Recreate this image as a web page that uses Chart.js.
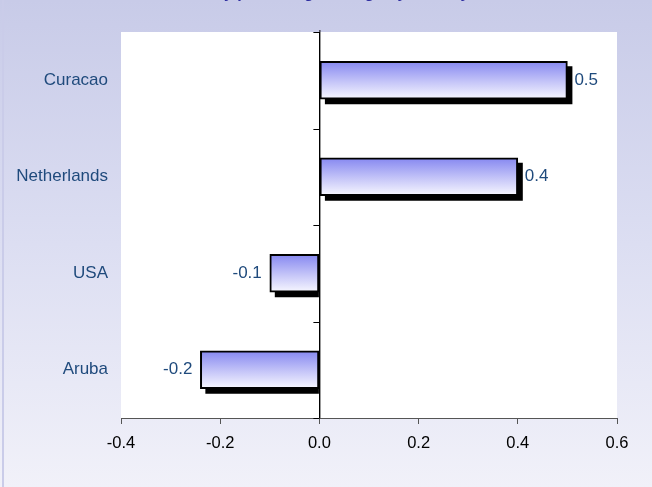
<!DOCTYPE html>
<html>
<head>
<meta charset="utf-8">
<script src="https://cdn.jsdelivr.net/npm/chart.js@4"></script>
<style>
  html, body { margin: 0; padding: 0; overflow: hidden; background: #f0f0f8; }
  #wrap { position: absolute; left: 0; top: -30px; width: 652px; height: 517px; }
</style>
</head>
<body>
<div id="wrap"><canvas id="bars"></canvas></div>
<script>
// values
const countries = ['Curacao', 'Netherlands', 'USA', 'Aruba'];
const changes = [0.5, 0.4, -0.1, -0.24];
const xTicks = [-0.4, -0.2, 0.0, 0.2, 0.4, 0.6];
const titleText = 'Inflation by percentage change by country';

const FONT = '"Liberation Sans", Arial, sans-serif';
const LABEL_BLUE = '#1f4a7c';
const SHADOW = 5;

// page background + white plot area
const backdrop = {
    id: 'backdrop',
    beforeDraw(chart) {
        const { ctx, width, height, chartArea } = chart;
        const g = ctx.createLinearGradient(0, 30, 0, height);
        g.addColorStop(0, '#c8cbe8');
        g.addColorStop(0.5, '#dcdef2');
        g.addColorStop(1, '#f1f1f9');
        ctx.save();
        ctx.fillStyle = g;
        ctx.fillRect(0, 0, width, height);
        ctx.fillStyle = '#cacce9';
        ctx.fillRect(2, 30, 2, height);
        ctx.fillStyle = '#ffffff';
        ctx.fillRect(chartArea.left, chartArea.top, chartArea.right - chartArea.left, chartArea.bottom - chartArea.top);
        ctx.restore();
    }
};

// black drop shadow behind each bar
const barShadow = {
    id: 'barShadow',
    beforeDatasetsDraw(chart) {
        const { ctx } = chart;
        const meta = chart.getDatasetMeta(0);
        ctx.save();
        ctx.fillStyle = '#000';
        meta.data.forEach((bar, i) => {
            const p = bar.getProps(['x', 'y', 'base', 'height'], true);
            const left = Math.min(p.x, p.base) + SHADOW;
            const right = changes[i] >= 0 ? Math.max(p.x, p.base) + SHADOW : p.base;
            ctx.fillRect(left, p.y - p.height / 2 + SHADOW, right - left, p.height);
        });
        ctx.restore();
    }
};

// zero line tick marks between categories + value labels
const extras = {
    id: 'extras',
    afterDatasetsDraw(chart) {
        const { ctx, scales } = chart;
        const x0 = scales.x.getPixelForValue(0);
        ctx.save();
        ctx.strokeStyle = '#000';
        ctx.lineWidth = 1;
        ctx.beginPath();
        ctx.moveTo(x0 + 0.5, chart.chartArea.top - 2);
        ctx.lineTo(x0 + 0.5, chart.chartArea.bottom);
        for (let i = 0; i <= countries.length; i++) {
            const yb = scales.y.getPixelForValue(i - 0.5);
            ctx.moveTo(x0 - 6, Math.round(yb) + 0.5);
            ctx.lineTo(x0, Math.round(yb) + 0.5);
        }
        ctx.stroke();

        ctx.font = '17px ' + FONT;
        ctx.fillStyle = LABEL_BLUE;
        ctx.textBaseline = 'middle';
        chart.getDatasetMeta(0).data.forEach((bar, i) => {
            const p = bar.getProps(['x', 'y'], true);
            const txt = changes[i].toFixed(1);
            if (changes[i] >= 0) {
                ctx.textAlign = 'left';
                ctx.fillText(txt, p.x + 7, p.y);
            } else {
                ctx.textAlign = 'right';
                ctx.fillText(txt, p.x - 8, p.y);
            }
        });
        ctx.restore();
    }
};

function barFill(c) {
    const chart = c.chart;
    const y = chart.scales.y;
    const yc = y ? y.getPixelForValue(c.dataIndex) : NaN;
    if (!isFinite(yc)) return '#b0b0f4';
    const g = chart.ctx.createLinearGradient(0, yc - 19, 0, yc + 19);
    g.addColorStop(0, '#8587f0');
    g.addColorStop(0.55, '#c6c6f8');
    g.addColorStop(1, '#f8f8ff');
    return g;
}

new Chart(document.getElementById('bars'), {
    type: 'bar',
    data: {
        labels: countries,
        datasets: [{
            data: changes,
            backgroundColor: barFill,
            borderColor: '#000',
            borderWidth: 2,
            borderSkipped: false,
            barThickness: 38
        }]
    },
    options: {
        indexAxis: 'y',
        responsive: true,
        maintainAspectRatio: false,
        animation: false,
        layout: { padding: { top: 0, right: 35, bottom: 0, left: 0 } },
        plugins: {
            legend: { display: false },
            tooltip: { enabled: false },
            title: {
                display: true,
                text: titleText,
                color: '#2e2ea0',
                font: { family: FONT, size: 16, weight: 'bold' },
                padding: { top: 14.4, bottom: 28.4 }
            }
        },
        scales: {
            x: {
                min: -0.4,
                max: 0.6,
                afterBuildTicks(s) { s.ticks = xTicks.map(v => ({ value: v })); },
                afterFit(s) { s.height = 69; },
                border: { display: true, color: '#555', width: 1 },
                grid: {
                    color: c => (c.tick && c.tick.value === 0 ? '#000' : 'rgba(0,0,0,0)'),
                    tickColor: '#555',
                    tickLength: 6,
                    drawOnChartArea: true
                },
                ticks: {
                    color: '#000',
                    font: { family: FONT, size: 16.5 },
                    padding: 10,
                    callback: v => Number(v).toFixed(1)
                }
            },
            y: {
                afterFit(s) { s.width = 121; },
                border: { display: false },
                grid: { display: false },
                ticks: {
                    color: LABEL_BLUE,
                    font: { family: FONT, size: 17 },
                    padding: 5
                }
            }
        }
    },
    plugins: [backdrop, barShadow, extras]
});
</script>
</body>
</html>
